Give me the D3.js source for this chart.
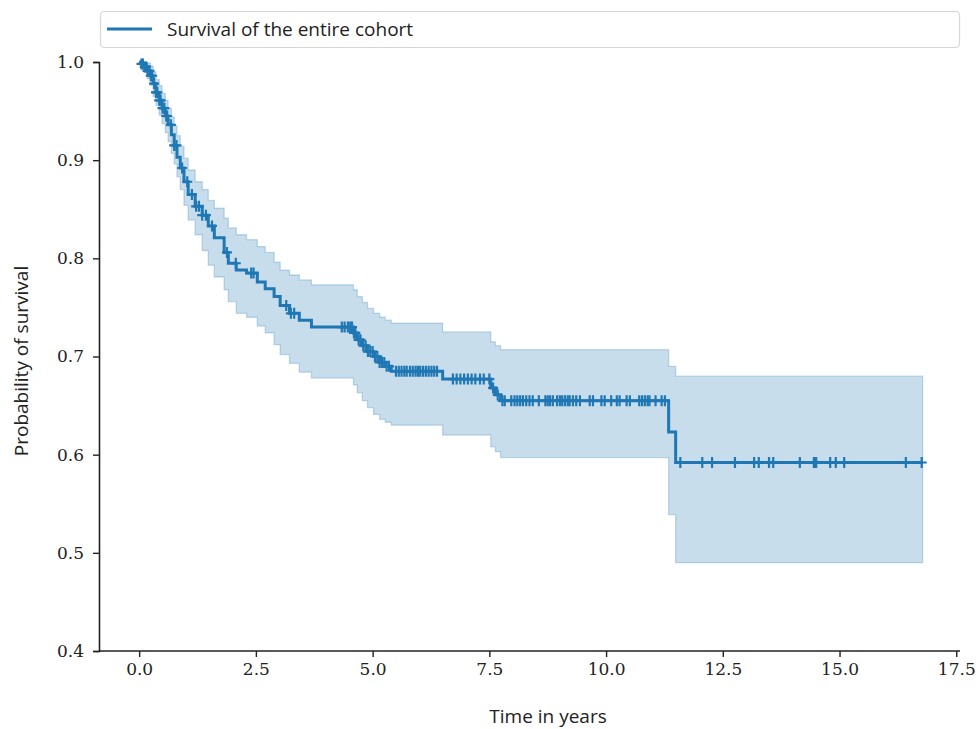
<!DOCTYPE html>
<html>
<head>
	<meta charset=utf-8>
	<title>Survival of the entire cohort</title>
	<script src="https://d3js.org/d3.v7.min.js"></script>
	<style type="text/css">
		body{
			margin: 0;
			background: #fff;
		}
		.tick text{
			font-family: "DejaVu Serif", serif;
			font-size: 17px;
			fill: #222;
		}
		.lbl{
			font-family: "Open Sans", sans-serif;
			font-size: 19px;
			fill: #222;
		}
	</style>
</head>
<body>
	<svg id="chart" width="976" height="729"></svg>

	<script type="text/javascript">
		// Kaplan-Meier estimate
		const eventTimes = [0.04, 0.11, 0.17, 0.24, 0.30, 0.36, 0.43, 0.49, 0.56, 0.62,
			0.69, 0.75, 0.81, 0.88, 0.96, 1.05, 1.20, 1.35, 1.48, 1.61,
			1.82, 1.91, 2.08, 2.30, 2.53, 2.70, 2.89, 3.02, 3.22, 3.43,
			3.69, 4.59, 4.67, 4.78, 4.89, 5.02, 5.15, 5.27, 5.40, 6.50,
			7.53, 7.63, 7.74, 11.34, 11.49];
		const survival = [0.998, 0.995, 0.991, 0.986, 0.978, 0.969, 0.961, 0.953, 0.945, 0.936,
			0.926, 0.915, 0.903, 0.892, 0.878, 0.865, 0.853, 0.844, 0.833, 0.821,
			0.806, 0.795, 0.788, 0.785, 0.776, 0.769, 0.761, 0.752, 0.744, 0.737,
			0.730, 0.724, 0.717, 0.711, 0.705, 0.700, 0.694, 0.690, 0.685, 0.677,
			0.668, 0.661, 0.655, 0.623, 0.592];
		const ciUpper = [1.000, 1.000, 0.999, 0.996, 0.990, 0.982, 0.976, 0.968, 0.961, 0.953,
			0.944, 0.935, 0.925, 0.914, 0.902, 0.890, 0.878, 0.870, 0.859, 0.851,
			0.841, 0.831, 0.824, 0.819, 0.812, 0.806, 0.796, 0.788, 0.783, 0.778,
			0.773, 0.768, 0.761, 0.755, 0.749, 0.744, 0.740, 0.737, 0.734, 0.725,
			0.715, 0.711, 0.707, 0.690, 0.680];
		const ciLower = [0.996, 0.990, 0.983, 0.976, 0.965, 0.956, 0.946, 0.937, 0.928, 0.919,
			0.907, 0.896, 0.883, 0.870, 0.854, 0.839, 0.824, 0.808, 0.793, 0.781,
			0.768, 0.756, 0.744, 0.740, 0.731, 0.724, 0.712, 0.702, 0.693, 0.684,
			0.678, 0.671, 0.663, 0.655, 0.648, 0.641, 0.636, 0.633, 0.630, 0.620,
			0.608, 0.603, 0.597, 0.539, 0.490];
		const censorTimes = [0.05, 0.08, 0.12, 0.15, 0.18, 0.22, 0.25, 0.28, 0.32, 0.36,
			0.39, 0.43, 0.46, 0.50, 0.54, 0.58, 0.60, 0.68, 0.75, 0.80,
			0.92, 1.03, 1.13, 1.22, 1.28, 1.35, 1.43, 1.56, 1.88, 2.07,
			2.40, 2.45, 3.15, 3.25, 3.32,
			4.34, 4.40, 4.47, 4.52, 4.56, 4.60, 4.63, 4.70, 4.74, 4.80,
			4.85, 4.90, 4.95, 5.00, 5.05, 5.10, 5.15, 5.20, 5.25, 5.30, 5.35,
			5.50, 5.56, 5.62, 5.68, 5.73, 5.80, 5.86, 5.92, 5.97, 6.02,
			6.08, 6.14, 6.20, 6.26, 6.32, 6.38,
			6.72, 6.80, 6.88, 6.96, 7.04, 7.12, 7.20, 7.30, 7.38,
			7.50, 7.58, 7.68, 7.78,
			7.83, 7.97, 8.04, 8.10, 8.16, 8.22, 8.29, 8.36, 8.43, 8.56,
			8.70, 8.75, 8.80, 8.86, 8.95, 9.01, 9.06, 9.12, 9.18, 9.22,
			9.29, 9.36, 9.44, 9.65, 9.72, 9.90, 9.97, 10.11, 10.23, 10.29,
			10.44, 10.51, 10.71, 10.77, 10.83, 10.89, 10.93, 11.06, 11.19, 11.26,
			11.59, 12.06, 12.27, 12.76, 13.17, 13.27, 13.49, 13.58, 14.15, 14.45,
			14.48, 14.50, 14.80, 14.92, 15.10, 16.42, 16.76];
		const endTime = 16.78;
		const xTicks = [0, 2.5, 5, 7.5, 10, 12.5, 15, 17.5];
		const yTicks = [0.4, 0.5, 0.6, 0.7, 0.8, 0.9, 1.0];
		const seriesName = 'Survival of the entire cohort';
		const blue = '#1f77b4';

		const svg = d3.select('#chart');

		const x = d3.scaleLinear()
			.domain([-0.86, 17.58])
			.range([99, 960]);

		const y = d3.scaleLinear()
			.domain([0.4, 1.0])
			.range([651, 62]);

		// step table: start at (0, 1) and carry the last value to the end
		const steps = [{t: 0, s: 1, lo: 1, hi: 1}];
		eventTimes.forEach((t, i) => {
			steps.push({t: t, s: survival[i], lo: ciLower[i], hi: ciUpper[i]});
		});
		const last = steps[steps.length - 1];
		steps.push({t: endTime, s: last.s, lo: last.lo, hi: last.hi});

		const band = d3.area()
			.curve(d3.curveStepAfter)
			.x(d => x(d.t))
			.y0(d => y(d.lo))
			.y1(d => y(d.hi));

		svg.append('path')
			.datum(steps)
			.attr('d', band)
			.attr('fill', blue)
			.attr('fill-opacity', 0.25)
			.attr('stroke', blue)
			.attr('stroke-opacity', 0.25)
			.attr('stroke-width', 1.3);

		const line = d3.line()
			.curve(d3.curveStepAfter)
			.x(d => x(d.t))
			.y(d => y(d.s));

		svg.append('path')
			.datum(steps)
			.attr('d', line)
			.attr('fill', 'none')
			.attr('stroke', blue)
			.attr('stroke-width', 3);

		// censor marks '+' sit on the curve
		const survAt = function(t){
			const i = d3.bisectRight(eventTimes, t);
			return i === 0 ? 1 : survival[i - 1];
		};

		svg.append('g')
			.selectAll('path')
			.data(censorTimes)
			.enter()
			.append('path')
			.attr('transform', d => `translate(${x(d)}, ${y(survAt(d))})`)
			.attr('d', 'M-5,0H5M0,-5.5V5.5')
			.attr('stroke', blue)
			.attr('stroke-width', 2.2);

		// axes, left and bottom spines only
		const xAxis = svg.append('g')
			.attr('transform', 'translate(0, 651)')
			.call(d3.axisBottom(x).tickValues(xTicks).tickFormat(d3.format('.1f')).tickSizeOuter(0).tickSize(6).tickPadding(6));

		const yAxis = svg.append('g')
			.attr('transform', 'translate(99, 0)')
			.call(d3.axisLeft(y).tickValues(yTicks).tickFormat(d3.format('.1f')).tickSizeOuter(0).tickSize(6).tickPadding(9));

		[xAxis, yAxis].forEach(function(g){
			g.select('.domain').attr('stroke', '#222').attr('stroke-width', 1.6);
			g.selectAll('.tick line').attr('stroke', '#222').attr('stroke-width', 1.4);
		});
		xAxis.select('.domain').attr('d', `M${x.range()[0]},0H${x.range()[1]}`);

		svg.append('text')
			.attr('class', 'lbl')
			.attr('x', 548)
			.attr('y', 723)
			.attr('text-anchor', 'middle')
			.text('Time in years');

		svg.append('text')
			.attr('class', 'lbl')
			.attr('transform', 'translate(28, 361) rotate(-90)')
			.attr('text-anchor', 'middle')
			.text('Probability of survival');

		// legend
		const legend = svg.append('g');
		legend.append('rect')
			.attr('x', 100.5)
			.attr('y', 11.5)
			.attr('width', 859)
			.attr('height', 36)
			.attr('rx', 4)
			.attr('fill', '#fff')
			.attr('stroke', '#d6d6d6')
			.attr('stroke-width', 1.2);
		legend.append('line')
			.attr('x1', 107)
			.attr('x2', 152)
			.attr('y1', 29)
			.attr('y2', 29)
			.attr('stroke', blue)
			.attr('stroke-width', 3);
		legend.append('text')
			.attr('class', 'lbl')
			.attr('x', 167)
			.attr('y', 36)
			.text(seriesName);
	</script>
</body>
</html>
